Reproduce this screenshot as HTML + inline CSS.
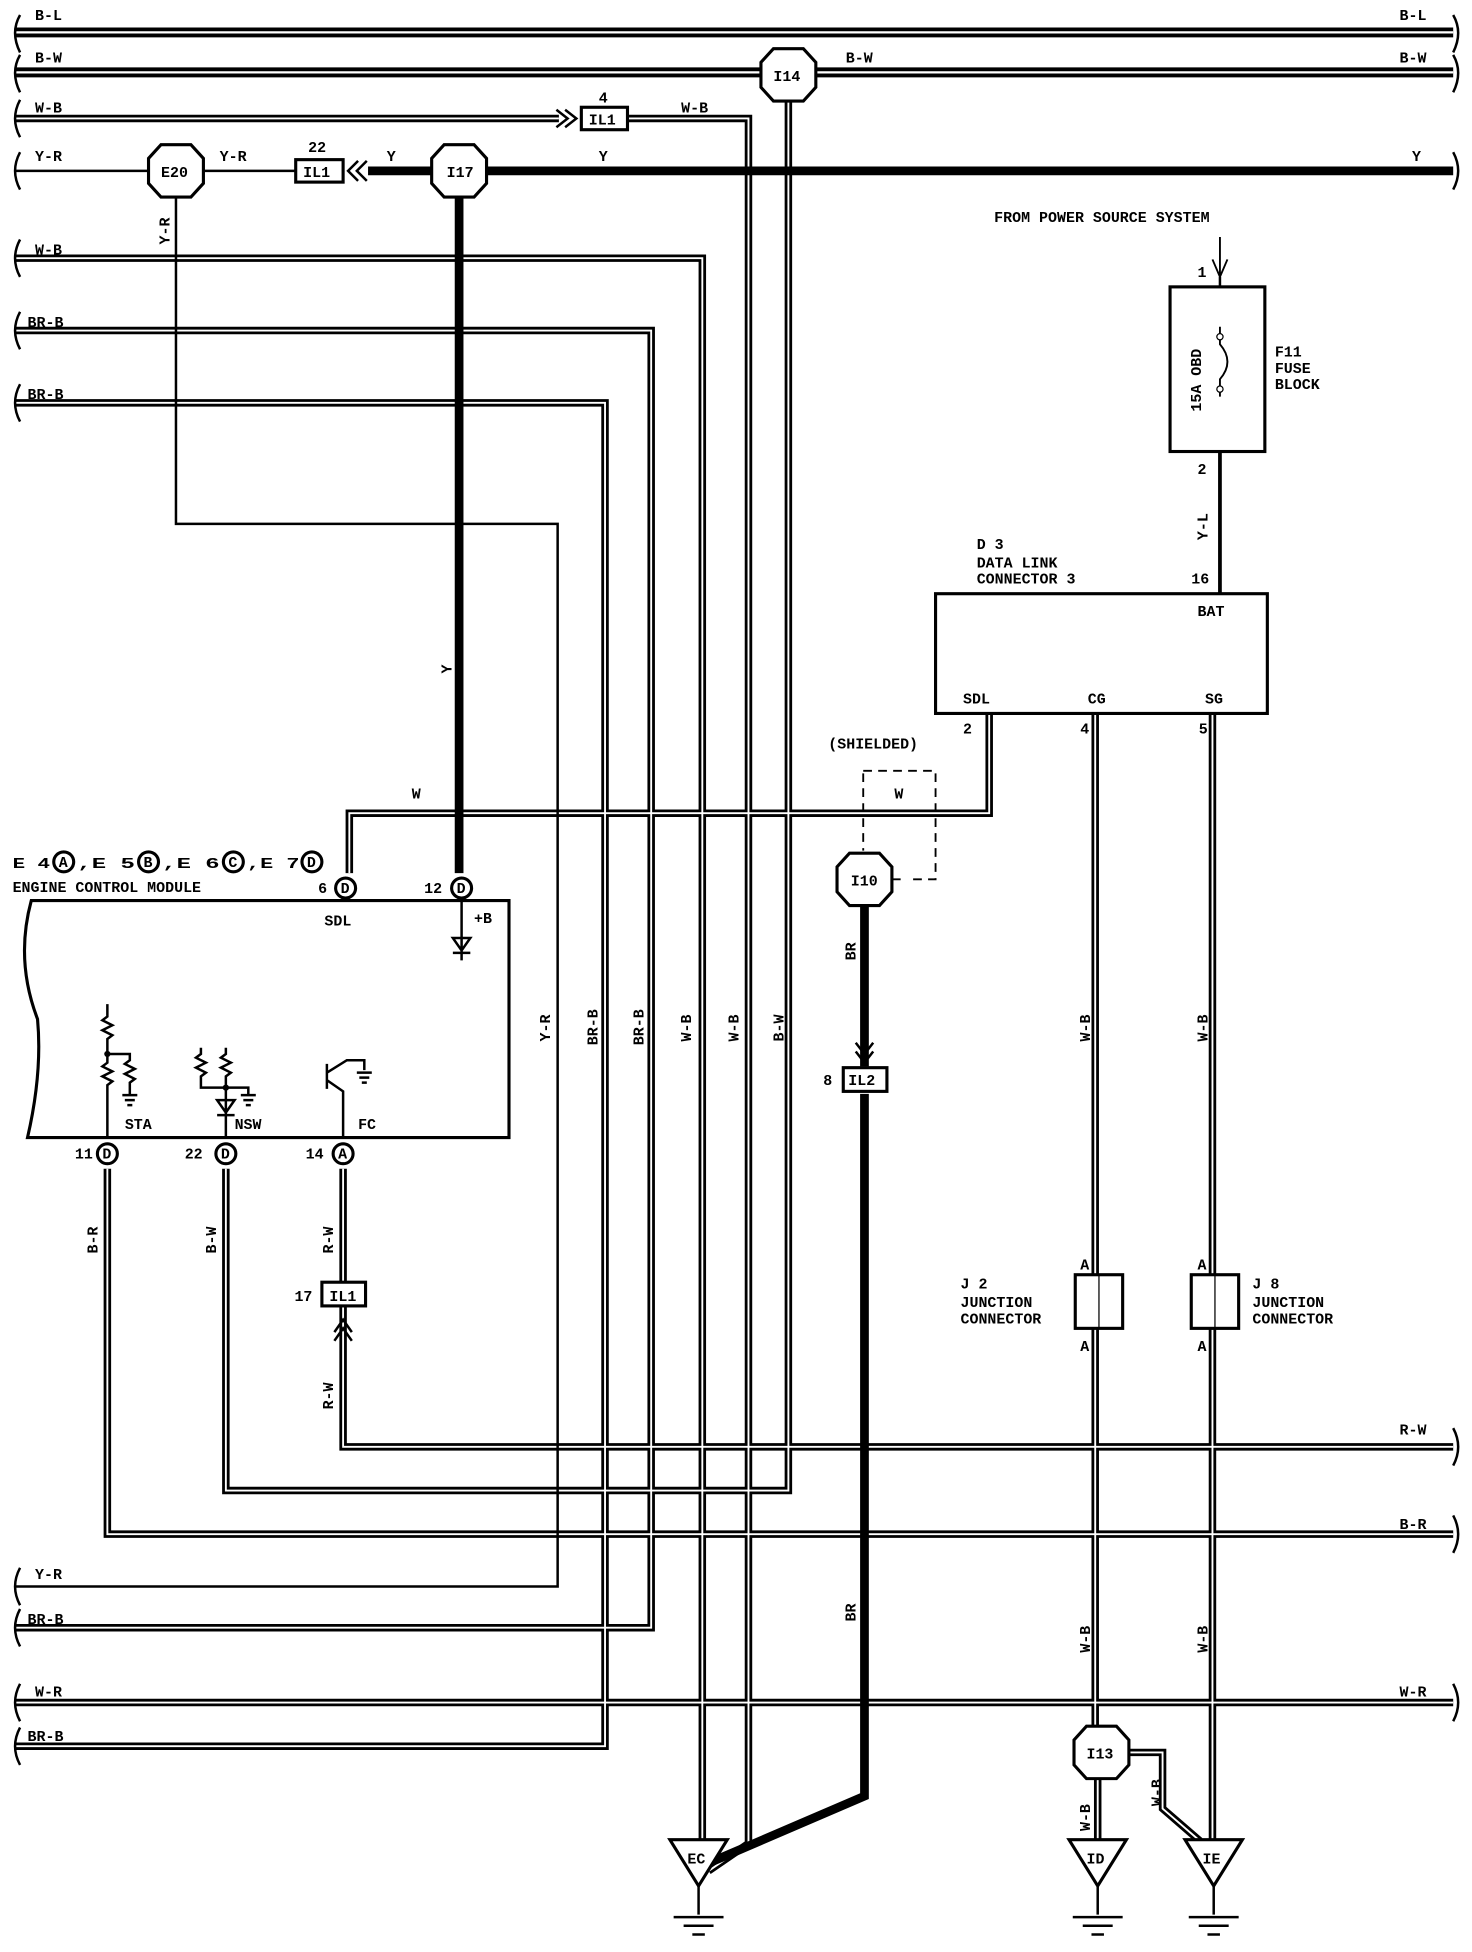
<!DOCTYPE html>
<html><head><meta charset="utf-8"><style>
html,body{margin:0;padding:0;background:#fff}
svg{display:block}
text{font-family:"Liberation Mono",monospace;font-weight:bold;font-size:12px;fill:#000}
.o{fill:none;stroke:#000;stroke-width:6}
.i{fill:none;stroke:#fff;stroke-width:1.5}
.oh{fill:none;stroke:#000;stroke-width:8}
.ih{fill:none;stroke:#fff;stroke-width:1.8}
.t{fill:none;stroke:#000;stroke-width:7}
.s{fill:none;stroke:#000;stroke-width:2}
.b{fill:#fff;stroke:#000;stroke-width:2.5}
</style></head><body>
<svg width="1472" height="1952" viewBox="0 0 1180 1565" xmlns="http://www.w3.org/2000/svg">
<defs>
<path id="bl" d="M12 26H1165"/>
<path id="bw" d="M12 58H1165"/>
<path id="wb1" d="M12 95H448M503 95H600V1478L568 1500"/>
<path id="wb2" d="M12 207H563V1495"/>
<path id="brb1" d="M12 265H522V1305H12"/>
<path id="brb2" d="M12 323H485V1400H12"/>
<path id="wr" d="M12 1365H1165"/>
<path id="bwv" d="M632 82V1195H181V937"/>
<path id="rw" d="M275 937V1027M275 1048V1160H1165"/>
<path id="br" d="M86 937V1230H1165"/>
<path id="sdl" d="M280 700V652H793V572"/>
<path id="cg" d="M878 572V1022M878 1065V1385M880 1427V1475"/>
<path id="sg" d="M972 572V1022M972 1065V1475"/>
<path id="ib" d="M905 1405H932V1450L962 1476"/>
<path id="g" d="M-20 0H20M-12 7H12M-5 14H5"/>
</defs>
<use href="#bl" class="oh"/><use href="#bl" class="ih"/>
<use href="#bw" class="oh"/><use href="#bw" class="ih"/>
<g class="o"><use href="#wb1"/><use href="#wb2"/><use href="#brb1"/><use href="#brb2"/><use href="#wr"/><use href="#bwv"/><use href="#rw"/><use href="#br"/><use href="#sdl"/><use href="#cg"/><use href="#sg"/><use href="#ib"/></g>
<g class="i"><use href="#wb1"/><use href="#wb2"/><use href="#brb1"/><use href="#brb2"/><use href="#wr"/><use href="#bwv"/><use href="#rw"/><use href="#br"/><use href="#sdl"/><use href="#cg"/><use href="#sg"/><use href="#ib"/></g>
<path class="t" d="M295 137H1165M368 158V700M693 727V855M693 877V1440L572 1492"/>
<path class="s" d="M12 137H120M162 137H237M141 158V420H447V1272H12"/>
<path d="M978 362V476" stroke="#000" stroke-width="3"/>
<path d="M978 190V222M972 208L978 222L984 208" stroke="#000" stroke-width="1.5" fill="none"/>
<g class="s" stroke-width="2">
<path d="M16 12Q8 26 16 42M16 44Q8 58 16 74M16 80Q8 95 16 110M16 122Q8 137 16 152M16 192Q8 207 16 222M16 250Q8 265 16 280M16 308Q8 323 16 338M16 1257Q8 1272 16 1287M16 1290Q8 1305 16 1320M16 1350Q8 1365 16 1380M16 1385Q8 1400 16 1415"/>
<path d="M1165 12Q1173 26 1165 42M1165 44Q1173 58 1165 74M1165 122Q1173 137 1165 152M1165 1145Q1173 1160 1165 1175M1165 1215Q1173 1230 1165 1245M1165 1350Q1173 1365 1165 1380"/>
</g>
<g class="b">
<polygon points="620,39 644,39 654,50 654,70 644,81 620,81 610,70 610,50"/>
<polygon points="129,116 153,116 163,127 163,147 153,158 129,158 119,147 119,127"/>
<polygon points="356,116 380,116 390,127 390,147 380,158 356,158 346,147 346,127"/>
<polygon points="681,684 705,684 715,695 715,715 705,726 681,726 671,715 671,695"/>
<polygon points="871,1384 895,1384 905,1395 905,1415 895,1426 871,1426 861,1415 861,1395"/>
</g>
<text x="620" y="65">I14</text><text x="129" y="142">E20</text><text x="358" y="142">I17</text><text x="682" y="710">I10</text><text x="871" y="1410">I13</text>
<g class="b"><rect x="466" y="86" width="37" height="18"/><rect x="237" y="128" width="38" height="18"/><rect x="676" y="856" width="35" height="19"/><rect x="258" y="1028" width="35" height="19"/></g>
<text x="472" y="100">IL1</text><text x="243" y="142">IL1</text><text x="680" y="870">IL2</text><text x="264" y="1043">IL1</text>
<text x="480" y="82">4</text><text x="247" y="122">22</text><text x="660" y="870">8</text><text x="236" y="1043">17</text>
<g class="s"><path d="M446 88L455 95L446 102M453 88L462 95L453 102M287 129L279 137L287 145M294 129L286 137L294 145M686 836L693 845L700 836M686 843L693 852L700 843M268 1068L275 1058L282 1068M268 1075L275 1065L282 1075"/></g>
<text x="28" y="16">B-L</text><text x="1122" y="16">B-L</text>
<text x="28" y="50">B-W</text><text x="678" y="50">B-W</text><text x="1122" y="50">B-W</text>
<text x="28" y="90">W-B</text><text x="546" y="90">W-B</text>
<text x="28" y="129">Y-R</text><text x="176" y="129">Y-R</text><text x="310" y="129">Y</text><text x="480" y="129">Y</text><text x="1132" y="129">Y</text>
<text x="28" y="204">W-B</text><text x="22" y="262">BR-B</text><text x="22" y="320">BR-B</text>
<text x="28" y="1266">Y-R</text><text x="22" y="1302">BR-B</text><text x="28" y="1360">W-R</text><text x="22" y="1396">BR-B</text>
<text x="1122" y="1150">R-W</text><text x="1122" y="1226">B-R</text><text x="1122" y="1360">W-R</text>
<text x="330" y="640">W</text><text x="717" y="640">W</text><text x="664" y="600">(SHIELDED)</text>
<rect x="938" y="230" width="76" height="132" fill="none" stroke="#000" stroke-width="2.5"/>
<g font-size="11">
<text transform="translate(136,196) rotate(-90)">Y-R</text>
<text transform="translate(362,540) rotate(-90)">Y</text>
<text transform="translate(441,835) rotate(-90)">Y-R</text>
<text transform="translate(479,838) rotate(-90)">BR-B</text>
<text transform="translate(516,838) rotate(-90)">BR-B</text>
<text transform="translate(554,835) rotate(-90)">W-B</text>
<text transform="translate(592,835) rotate(-90)">W-B</text>
<text transform="translate(628,835) rotate(-90)">B-W</text>
<text transform="translate(686,770) rotate(-90)">BR</text>
<text transform="translate(686,1300) rotate(-90)">BR</text>
<text transform="translate(78,1005) rotate(-90)">B-R</text>
<text transform="translate(173,1005) rotate(-90)">B-W</text>
<text transform="translate(267,1005) rotate(-90)">R-W</text>
<text transform="translate(267,1130) rotate(-90)">R-W</text>
<text transform="translate(874,835) rotate(-90)">W-B</text>
<text transform="translate(968,835) rotate(-90)">W-B</text>
<text transform="translate(874,1325) rotate(-90)">W-B</text>
<text transform="translate(968,1325) rotate(-90)">W-B</text>
<text transform="translate(874,1468) rotate(-90)">W-B</text>
<text transform="translate(931,1448) rotate(-90)">W-B</text>
<text transform="translate(968,433) rotate(-90)">Y-L</text>
<text transform="translate(963,330) rotate(-90)" font-size="12">15A OBD</text>
</g>
<path d="M692 620V682M692 618H750V705H728M715 705H725" stroke="#000" stroke-width="1.5" fill="none" stroke-dasharray="7,5"/>
<path d="M978 222V230M978 362V370" stroke="#000" stroke-width="2"/>
<path d="M978 262V276Q990 290 978 304V318" stroke="#000" stroke-width="1.5" fill="none"/>
<circle cx="978" cy="270" r="2.5" fill="#fff" stroke="#000"/><circle cx="978" cy="312" r="2.5" fill="#fff" stroke="#000"/>
<text x="797" y="178">FROM POWER SOURCE SYSTEM</text>
<text x="960" y="222">1</text><text x="960" y="380">2</text>
<text x="1022" y="286">F11</text><text x="1022" y="299">FUSE</text><text x="1022" y="312">BLOCK</text>
<rect x="750" y="476" width="266" height="96" fill="none" stroke="#000" stroke-width="2.5"/>
<text x="783" y="440">D 3</text><text x="783" y="455">DATA LINK</text><text x="783" y="468">CONNECTOR 3</text>
<text x="955" y="468">16</text><text x="960" y="494">BAT</text>
<text x="772" y="564">SDL</text><text x="872" y="564">CG</text><text x="966" y="564">SG</text>
<text x="772" y="588">2</text><text x="866" y="588">4</text><text x="961" y="588">5</text>
<path d="M25 722H408V912H22Q34 860 30 817Q12 770 25 722Z" fill="none" stroke="#000" stroke-width="2.5"/>
<text x="10" y="696" font-size="13" textLength="30" lengthAdjust="spacingAndGlyphs">E 4</text>
<text x="62" y="696" font-size="13" textLength="46" lengthAdjust="spacingAndGlyphs">,E 5</text>
<text x="130" y="696" font-size="13" textLength="46" lengthAdjust="spacingAndGlyphs">,E 6</text>
<text x="198" y="696" font-size="13" textLength="42" lengthAdjust="spacingAndGlyphs">,E 7</text>
<g class="b" stroke-width="2"><circle cx="51" cy="691" r="8"/><circle cx="119" cy="691" r="8"/><circle cx="187" cy="691" r="8"/><circle cx="250" cy="691" r="8"/>
<circle cx="277" cy="712" r="8"/><circle cx="370" cy="712" r="8"/><circle cx="86" cy="925" r="8"/><circle cx="181" cy="925" r="8"/><circle cx="275" cy="925" r="8"/></g>
<g font-size="10"><text x="47" y="695">A</text><text x="115" y="695">B</text><text x="183" y="695">C</text><text x="246" y="695">D</text>
<text x="273" y="716">D</text><text x="366" y="716">D</text><text x="82" y="929">D</text><text x="177" y="929">D</text><text x="271" y="929">A</text></g>
<text x="10" y="715" font-size="13">ENGINE CONTROL MODULE</text>
<text x="255" y="716">6</text><text x="340" y="716">12</text><text x="60" y="929">11</text><text x="148" y="929">22</text><text x="245" y="929">14</text>
<text x="260" y="742">SDL</text><text x="380" y="740">+B</text><text x="100" y="905">STA</text><text x="188" y="905">NSW</text><text x="287" y="905">FC</text>
<g class="s" stroke-width="1.5">
<path d="M370 722V770M363 752H377L370 762ZM363 764H377"/>
<path d="M86 805V815L82 818L90 822L82 826L90 830L86 833V845H104V850L100 853L108 857L100 861L108 865L104 868V878M98 878H110M100 882H108M102 886H106"/>
<path d="M86 845V852L82 855L90 859L82 863L90 867L86 870V912"/>
<path d="M161 840V845L157 848L165 852L157 856L165 860L161 863V872H199V878M193 878H205M195 882H203M197 886H201"/>
<path d="M181 840V845L177 848L185 852L177 856L185 860L181 863V912M174 882H188L181 892ZM174 894H188"/>
<path d="M262 853V873M262 860L278 850H292V858M262 866L275 875V912M286 860H298M288 864H296M290 868H294"/>
</g>
<circle cx="86" cy="845" r="2.5"/><circle cx="181" cy="872" r="2.5"/>
<g class="b"><rect x="862" y="1022" width="38" height="43"/><rect x="955" y="1022" width="38" height="43"/></g>
<path d="M881 1022V1065M974 1022V1065" stroke="#000" stroke-width="1"/>
<text x="866" y="1018">A</text><text x="866" y="1083">A</text><text x="960" y="1018">A</text><text x="960" y="1083">A</text>
<text x="770" y="1033">J 2</text><text x="770" y="1048">JUNCTION</text><text x="770" y="1061">CONNECTOR</text>
<text x="1004" y="1033">J 8</text><text x="1004" y="1048">JUNCTION</text><text x="1004" y="1061">CONNECTOR</text>
<g class="b"><polygon points="537,1475 583,1475 560,1512"/><polygon points="857,1475 903,1475 880,1512"/><polygon points="950,1475 996,1475 973,1512"/></g>
<text x="551" y="1494">EC</text><text x="871" y="1494">ID</text><text x="964" y="1494">IE</text>
<path d="M560 1512V1535M880 1512V1535M973 1512V1535" stroke="#000" stroke-width="2"/>
<use href="#g" x="560" y="1537" class="s"/><use href="#g" x="880" y="1537" class="s"/><use href="#g" x="973" y="1537" class="s"/>
</svg>
</body></html>
